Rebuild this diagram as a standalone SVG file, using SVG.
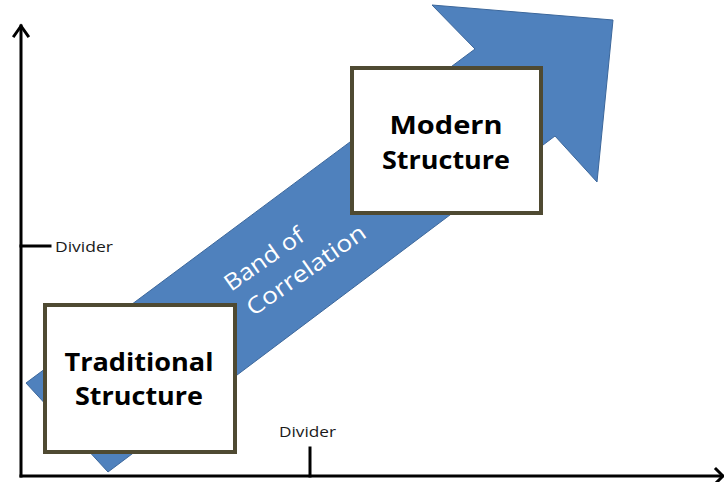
<svg xmlns="http://www.w3.org/2000/svg" width="724" height="482" viewBox="0 0 724 482">
<style>
.axis{stroke:#000;stroke-width:3;fill:none;stroke-linecap:square}
.box{fill:#fff;stroke:#4f4a32;stroke-width:4}
.lbl{font-family:"Open Sans","DejaVu Sans",sans-serif;font-weight:bold;font-size:25px;fill:#000;text-anchor:middle}
.div{font-family:"Open Sans","DejaVu Sans",sans-serif;font-size:15px;fill:#1a1a1a}
.band{font-family:"Open Sans","DejaVu Sans",sans-serif;font-size:23px;fill:#fff}
</style>
<rect width="724" height="482" fill="#fff"/>
<g id="band">
<polygon points="26,383 475,49 432,5 613,20 597,182 555,136 108,472" fill="#4f81bd" stroke="#3c679b" stroke-width="1"/>
<g transform="translate(231,292) rotate(-35)">
<text class="band" x="0" y="0" textLength="92" lengthAdjust="spacingAndGlyphs">Band of</text>
<text class="band" x="4" y="33" textLength="140" lengthAdjust="spacingAndGlyphs">Correlation</text>
</g>
</g>
<g id="axes">
<line class="axis" x1="21" y1="26" x2="21" y2="476"/>
<polyline class="axis" points="14,36 21,26 28,36"/>
<line class="axis" x1="21" y1="476" x2="722" y2="476"/>
<polyline class="axis" points="716,469 723,476 716,483"/>
</g>
<g id="divider-y">
<line class="axis" x1="21" y1="246" x2="50" y2="246"/>
<text class="div" x="55" y="252" textLength="58" lengthAdjust="spacingAndGlyphs">Divider</text>
</g>
<g id="divider-x">
<line class="axis" x1="310" y1="448" x2="310" y2="476"/>
<text class="div" x="279" y="437" textLength="57" lengthAdjust="spacingAndGlyphs">Divider</text>
</g>
<g id="traditional">
<rect class="box" x="45" y="305" width="190" height="147"/>
<text class="lbl" x="139" y="371" textLength="149" lengthAdjust="spacingAndGlyphs">Traditional</text>
<text class="lbl" x="139" y="405" textLength="128" lengthAdjust="spacingAndGlyphs">Structure</text>
</g>
<g id="modern">
<rect class="box" x="352" y="68" width="189" height="145"/>
<text class="lbl" x="446" y="134" textLength="113" lengthAdjust="spacingAndGlyphs">Modern</text>
<text class="lbl" x="446" y="169" textLength="128" lengthAdjust="spacingAndGlyphs">Structure</text>
</g>
</svg>
